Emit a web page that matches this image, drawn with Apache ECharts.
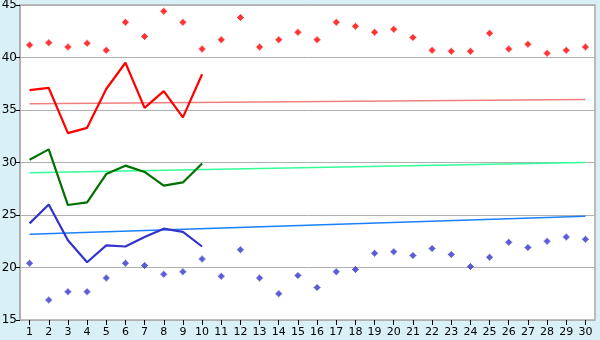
<!DOCTYPE html>
<html><head><meta charset="utf-8">
<script src="https://cdn.jsdelivr.net/npm/echarts@6/dist/echarts.min.js"></script>
<style>html,body{margin:0;padding:0;background:#daf0f7}#c{width:600px;height:340px}</style>
</head><body><div id="c"></div>
<script>
const days = Array.from({length:30},(_,i)=>String(i+1));
const maxPoints = [41.2,41.4,41.0,41.35,40.7,43.35,42.0,44.4,43.35,40.8,41.7,43.8,41.0,41.7,42.4,41.7,43.35,42.97,42.4,42.7,41.9,40.7,40.6,40.6,42.3,40.8,41.26,40.4,40.7,41.0];
const minPoints = [20.4,16.9,17.7,17.7,19.0,20.4,20.2,19.35,19.6,20.8,19.16,21.7,19.0,17.5,19.25,18.1,19.6,19.8,21.35,21.5,21.15,21.8,21.25,20.1,20.97,22.4,21.9,22.5,22.9,22.7];
const maxLine = [36.9,37.1,32.8,33.3,37.0,39.5,35.2,36.8,34.3,38.4];
const avgLine = [30.27,31.25,25.95,26.2,28.9,29.7,29.1,27.8,28.1,29.9];
const minLine = [24.2,26.0,22.6,20.5,22.1,22.0,22.9,23.7,23.4,22.0];
const maxTrend = [35.6,36.0];
const avgTrend = [29.03,30.0];
const minTrend = [23.16,24.87];
const yTicks = [15,20,25,30,35,40,45];

const trend = (arr)=>[[days[0],arr[0]],[days[days.length-1],arr[1]]];
const marker = 'path://M3,0L4,0L4,1L5,1L5,2L6,2L6,3L7,3L7,4L6,4L6,5L5,5L5,6L4,6L4,7L3,7L3,6L2,6L2,5L1,5L1,4L0,4L0,3L1,3L1,2L2,2L2,1L3,1Z';
const chart = echarts.init(document.getElementById('c'));
chart.setOption({
  backgroundColor:'#daf0f7',
  animation:false,
  grid:{left:20,right:5,top:5,bottom:20,show:true,backgroundColor:'#fff',borderColor:'#aaa',borderWidth:1.5,outerBoundsMode:'none'},
  xAxis:{type:'category',data:days,boundaryGap:true,
    axisLine:{show:false},
    axisTick:{show:true,alignWithLabel:true,length:5,lineStyle:{color:'#000'}},
    axisLabel:{color:'#000',fontFamily:'DejaVu Sans',fontSize:11,margin:7,interval:0},
    splitLine:{show:false}},
  yAxis:{type:'value',min:yTicks[0],max:yTicks[yTicks.length-1],interval:5,
    axisLine:{show:true,lineStyle:{color:'#aaa',width:1.5}},
    axisTick:{show:true,length:4,lineStyle:{color:'#000'}},
    axisLabel:{color:'#000',fontFamily:'DejaVu Sans',fontSize:12,margin:3},
    splitLine:{show:true,lineStyle:{color:'#b0b0b0',width:1}}},
  series:[
    {type:'line',data:trend(maxTrend),symbol:'none',lineStyle:{color:'#f08080',width:1.5},z:2},
    {type:'line',data:trend(avgTrend),symbol:'none',lineStyle:{color:'#33ff99',width:1.5},z:2},
    {type:'line',data:trend(minTrend),symbol:'none',lineStyle:{color:'#1a80ff',width:1.5},z:2},
    {type:'line',data:maxLine,symbol:'none',lineStyle:{color:'#ff0000',width:2.2},z:3},
    {type:'line',data:avgLine,symbol:'none',lineStyle:{color:'#007000',width:2.2},z:3},
    {type:'line',data:minLine,symbol:'none',lineStyle:{color:'#3333cc',width:2.2},z:3},
    {type:'scatter',data:maxPoints,symbol:marker,symbolSize:7,itemStyle:{color:'#ff0000'},z:4},
    {type:'scatter',data:minPoints,symbol:marker,symbolSize:7,itemStyle:{color:'#3333cc'},z:4}
  ]
});
</script></body></html>
